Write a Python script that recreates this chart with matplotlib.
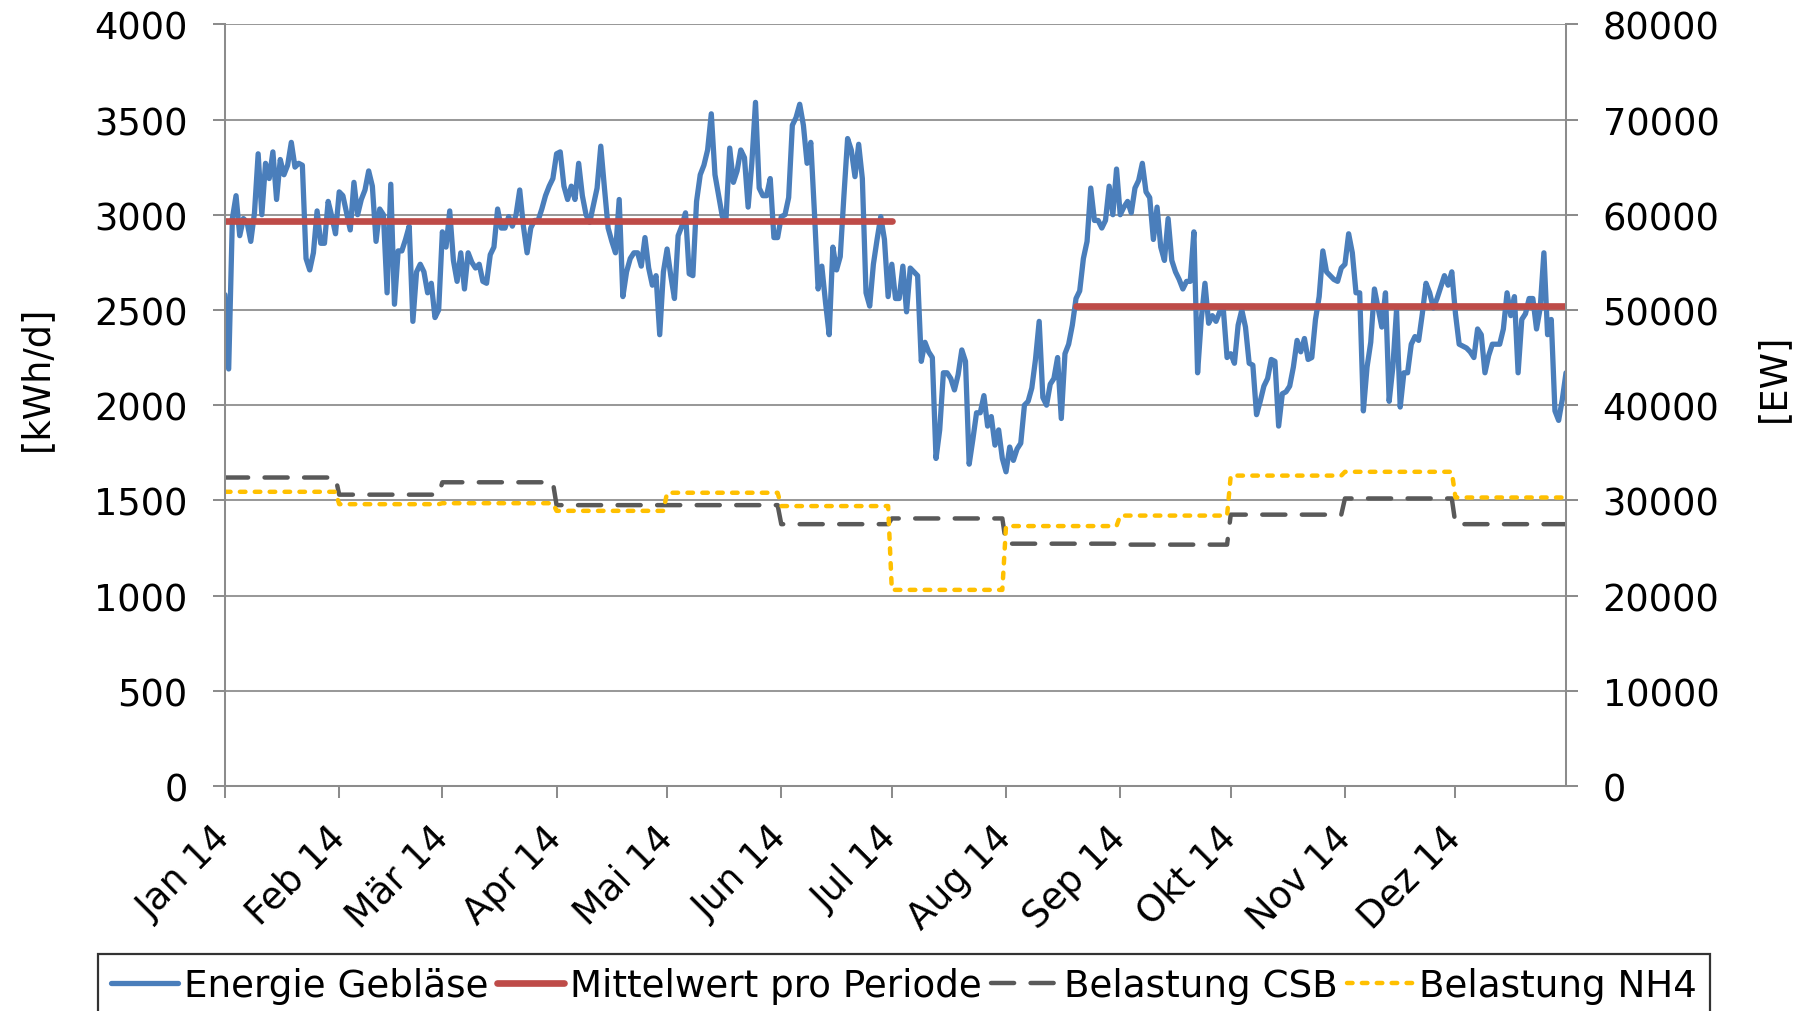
import matplotlib
matplotlib.use("Agg")
import matplotlib.pyplot as plt
import numpy as np
import pandas as pd

# Tageswerte Energie Gebläse [kWh/d], 01.01.2014 - 31.12.2014
energie = [
    2580, 2190, 2980, 3100, 2890, 2980, 2960, 2860, 3010, 3320,
    3000, 3270, 3190, 3330, 3080, 3290, 3210, 3260, 3380, 3250,
    3270, 3260, 2770, 2710, 2800, 3020, 2850, 2850, 3070, 2990,
    2900, 3120, 3100, 3010, 2920, 3170, 3000, 3080, 3130, 3230,
    3150, 2860, 3030, 3000, 2590, 3160, 2530, 2810, 2810, 2870,
    2940, 2440, 2700, 2740, 2700, 2590, 2640, 2460, 2500, 2910,
    2830, 3020, 2760, 2650, 2800, 2610, 2800, 2750, 2720, 2740,
    2650, 2640, 2790, 2830, 3030, 2930, 2930, 2990, 2940, 3000,
    3130, 2940, 2800, 2930, 2970, 2970, 3030, 3100, 3150, 3190,
    3320, 3330, 3150, 3080, 3150, 3080, 3270, 3100, 3000, 2960,
    3050, 3140, 3360, 3140, 2930, 2860, 2800, 3080, 2570, 2700,
    2770, 2800, 2800, 2730, 2880, 2720, 2630, 2680, 2370, 2700,
    2820, 2680, 2560, 2890, 2940, 3010, 2690, 2680, 3070, 3210,
    3260, 3340, 3530, 3210, 3100, 2990, 2980, 3350, 3170, 3230,
    3340, 3300, 3040, 3270, 3590, 3140, 3100, 3100, 3190, 2880,
    2880, 2990, 3000, 3090, 3470, 3510, 3580, 3470, 3270, 3380,
    3010, 2610, 2730, 2540, 2370, 2830, 2710, 2780, 3100, 3400,
    3340, 3200, 3370, 3190, 2590, 2520, 2740, 2870, 2990, 2870,
    2570, 2740, 2560, 2560, 2730, 2490, 2720, 2700, 2680, 2230,
    2330, 2280, 2250, 1720, 1870, 2170, 2170, 2140, 2080, 2160,
    2290, 2230, 1690, 1820, 1960, 1960, 2050, 1890, 1940, 1790,
    1870, 1720, 1650, 1780, 1710, 1770, 1800, 2000, 2020, 2090,
    2240, 2440, 2040, 2000, 2110, 2140, 2250, 1930, 2270, 2320,
    2420, 2560, 2600, 2770, 2860, 3140, 2970, 2970, 2930, 2970,
    3150, 3000, 3240, 3000, 3040, 3070, 3010, 3140, 3180, 3270,
    3120, 3090, 2870, 3040, 2830, 2760, 2980, 2760, 2700, 2660,
    2610, 2650, 2650, 2910, 2170, 2450, 2640, 2430, 2470, 2440,
    2490, 2500, 2250, 2270, 2220, 2420, 2500, 2410, 2220, 2210,
    1950, 2020, 2100, 2140, 2240, 2230, 1890, 2060, 2070, 2100,
    2200, 2340, 2280, 2350, 2240, 2250, 2450, 2570, 2810, 2700,
    2680, 2660, 2650, 2720, 2740, 2900, 2800, 2590, 2590, 1970,
    2200, 2330, 2610, 2510, 2410, 2590, 2020, 2200, 2500, 1990,
    2170, 2170, 2320, 2360, 2340, 2480, 2640, 2590, 2510, 2560,
    2620, 2680, 2630, 2700, 2480, 2320, 2310, 2300, 2280, 2250,
    2400, 2370, 2170, 2260, 2320, 2320, 2320, 2400, 2590, 2470,
    2570, 2170, 2450, 2480, 2560, 2560, 2400, 2510, 2800, 2370,
    2450, 1970, 1920, 2030, 2170,
]

# Mittelwert pro Periode [kWh/d]
perioden_start = ["2014-01-01", "2014-08-20"]
perioden_ende = ["2014-07-01", "2014-12-31"]
perioden_mittel = [2965, 2520]

# monatliche Belastung [EW]
belastung_csb = [32400, 30600, 31900, 29500, 29500, 27500,
                 28100, 25450, 25350, 28500, 30200, 27500]
belastung_nh4 = [30900, 29600, 29700, 28900, 30800, 29400,
                 20600, 27300, 28400, 32600, 33000, 30300]

monat_labels = ["Jan 14", "Feb 14", "Mär 14", "Apr 14", "Mai 14", "Jun 14",
                "Jul 14", "Aug 14", "Sep 14", "Okt 14", "Nov 14", "Dez 14"]

tage = pd.date_range("2014-01-01", periods=len(energie), freq="D")
csb_tag = np.array(belastung_csb)[tage.month - 1]
nh4_tag = np.array(belastung_nh4)[tage.month - 1]

plt.rcParams["font.family"] = ["DejaVu Sans"]
FS = 26.5
grau = "#999999"
achse = "#8c8c8c"

fig = plt.figure(figsize=(18.04, 10.12), dpi=100)
ax = fig.add_axes([0.12472, 0.22233, 0.74335, 0.75267])
ax2 = ax.twinx()

l1, = ax.plot(tage, energie, color="#4A7EBB", lw=3.8, solid_joinstyle="round",
              solid_capstyle="round", zorder=3)
for s, e, m in zip(perioden_start, perioden_ende, perioden_mittel):
    l2, = ax.plot([pd.Timestamp(s), pd.Timestamp(e)], [m, m], color="#BE4B48",
                  lw=4.8, solid_capstyle="round", zorder=4)

l3, = ax2.plot(tage, csb_tag, color="#595959", lw=3.2, dashes=(5.2, 3.7),
               dash_capstyle="round")
l4, = ax2.plot(tage, nh4_tag, color="#FFC000", lw=3.2, dashes=(1.25, 2.1),
               dash_capstyle="round")

ax.set_ylim(0, 4000)
ax.set_yticks(range(0, 4001, 500))
ax2.set_ylim(0, 80000)
ax2.set_yticks(range(0, 80001, 10000))
ax.set_xlim(pd.Timestamp("2014-01-01"), pd.Timestamp("2014-12-31"))

monate = pd.date_range("2014-01-01", periods=12, freq="MS")
ax.set_xticks(monate)
ax.set_xticklabels(monat_labels, rotation=45, ha="right", va="center",
                   rotation_mode="anchor", fontsize=FS)

ax.grid(axis="y", color=grau, lw=1.45)
ax.set_axisbelow(True)
for a in (ax, ax2):
    for sp in a.spines.values():
        sp.set_color(achse)
        sp.set_linewidth(1.45)
    a.spines["top"].set_visible(False)

ax.tick_params(axis="y", length=8.3, width=1.45, color=achse,
               labelsize=FS, pad=18.5)
ax.tick_params(axis="x", length=8.6, width=1.45, color=achse,
               labelsize=FS, pad=24)
ax2.tick_params(axis="y", length=8.3, width=1.45, color=achse,
                labelsize=FS, pad=18)

ax.set_ylabel("[kWh/d]", fontsize=FS)
ax.yaxis.set_label_coords(-0.1268, 0.537)
ax2.set_ylabel("[EW]", fontsize=FS)
ax2.yaxis.set_label_coords(1.1409, 0.537)

leg = fig.legend([l1, l2, l3, l4],
                 ["Energie Gebläse", "Mittelwert pro Periode",
                  "Belastung CSB", "Belastung NH4"],
                 loc="upper left", bbox_to_anchor=(0.0543, 0.0563),
                 bbox_transform=fig.transFigure, ncol=4, fontsize=26.8,
                 frameon=True, fancybox=False, edgecolor="black",
                 handlelength=1.8, handletextpad=0.15, columnspacing=0.25,
                 borderaxespad=0, borderpad=0.35)
leg.get_frame().set_linewidth(1.6)

fig.savefig("out.png", dpi=100)
